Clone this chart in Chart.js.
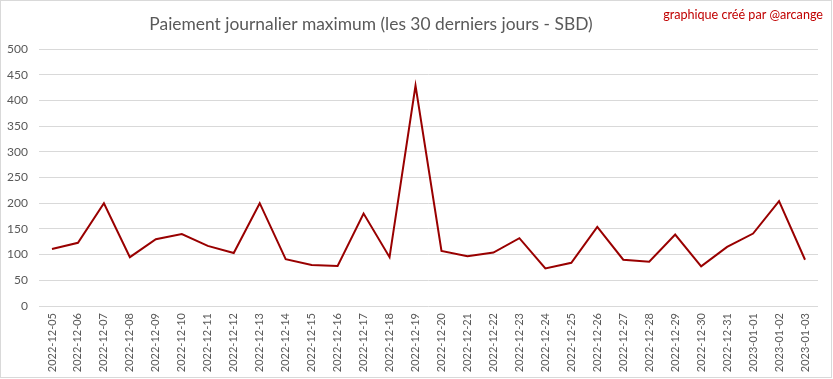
<!DOCTYPE html>
<html>
<head>
<meta charset="utf-8">
<script src="https://cdn.jsdelivr.net/npm/chart.js@4"></script>
<style>
html,body{margin:0;padding:0;background:#fff;}
#wrap{width:833px;height:379px;position:relative;}
</style>
</head>
<body>
<div id="wrap"><canvas id="c" width="833" height="379"></canvas></div>
<script>
const titleText = "Paiement journalier maximum (les 30 derniers jours - SBD)";
const creditText = "graphique créé par @arcange";
const categories = ["2022-12-05","2022-12-06","2022-12-07","2022-12-08","2022-12-09","2022-12-10","2022-12-11","2022-12-12","2022-12-13","2022-12-14","2022-12-15","2022-12-16","2022-12-17","2022-12-18","2022-12-19","2022-12-20","2022-12-21","2022-12-22","2022-12-23","2022-12-24","2022-12-25","2022-12-26","2022-12-27","2022-12-28","2022-12-29","2022-12-30","2022-12-31","2023-01-01","2023-01-02","2023-01-03"];
const maxPayout = [111,123,200,95,130,140,117,103,200,91,80,78,180,95,429,107,97,104,132,73,84,154,90,86,139,77,115,141,204,90];
const yMin = 0, yMax = 500, yStep = 50;

const FONT = "Lato, 'Open Sans', sans-serif";
const decor = {
  id: 'decor',
  beforeDraw(chart){
    const ctx = chart.ctx;
    ctx.save();
    ctx.fillStyle = '#fff';
    ctx.fillRect(0,0,chart.width,chart.height);
    ctx.restore();
  },
  afterDraw(chart){
    const ctx = chart.ctx;
    ctx.save();
    ctx.strokeStyle = '#D9D9D9';
    ctx.lineWidth = 1;
    ctx.strokeRect(0.5,0.5,831,377);
    ctx.fillStyle = '#595959';
    ctx.font = "17.4px " + FONT;
    ctx.textAlign = 'center';
    ctx.textBaseline = 'alphabetic';
    ctx.fillText(titleText, 371, 30);
    ctx.fillStyle = '#C00000';
    ctx.font = "12.6px " + FONT;
    ctx.textAlign = 'right';
    ctx.fillText(creditText, 823, 19);
    ctx.restore();
  }
};

new Chart(document.getElementById('c'), {
  type: 'line',
  data: {
    labels: categories,
    datasets: [{
      data: maxPayout,
      borderColor: '#990000',
      borderWidth: 2,
      pointRadius: 0,
      tension: 0,
      fill: false
    }]
  },
  options: {
    responsive: false,
    animation: false,
    devicePixelRatio: 1,
    layout: { padding: { top: 49, right: 15, left: 0, bottom: 0 } },
    plugins: { legend: { display: false }, title: { display: false }, tooltip: { enabled: false } },
    scales: {
      x: {
        type: 'category',
        offset: true,
        grid: { display: false, drawTicks: false },
        border: { display: false },
        ticks: {
          autoSkip: false, maxRotation: 90, minRotation: 90,
          padding: 7, color: '#595959',
          font: { family: FONT, size: 11 }
        },
        afterFit(s){ s.height = 73; }
      },
      y: {
        min: yMin, max: yMax,
        grid: { color: '#D9D9D9', lineWidth: 1, drawTicks: false },
        border: { display: false },
        ticks: {
          stepSize: yStep, padding: 11, color: '#595959',
          font: { family: FONT, size: 12 }
        },
        afterFit(s){ s.width = 39; }
      }
    }
  },
  plugins: [decor]
});
</script>
</body>
</html>
